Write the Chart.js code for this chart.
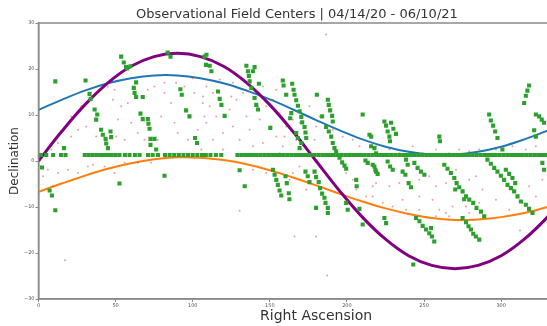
<!DOCTYPE html>
<html>
<head>
<meta charset="utf-8">
<script src="https://cdn.jsdelivr.net/npm/chart.js@4"></script>
<style>
  html, body { margin: 0; padding: 0; overflow: hidden; background: #fff; }
  canvas { display: block; }
</style>
</head>
<body>
<canvas id="chart" width="632" height="326"></canvas>
<script>
// Reference curves, sampled every 15 degrees of right ascension
const curveRA = [0,15,30,45,60,75,90,105,120,135,150,165,180,195,210,225,240,255,270,285,300,315,330,345,360];
const eclipticDec = [0,6.4,12.2,17.0,20.6,22.7,23.4,22.7,20.6,17.0,12.2,6.4,0,-6.4,-12.2,-17.0,-20.6,-22.7,-23.4,-22.7,-20.6,-17.0,-12.2,-6.4,0];
const northDec = [11.1,13.3,15.3,16.9,18.0,18.6,18.6,18.0,16.9,15.3,13.4,11.2,8.9,6.7,4.7,3.1,2.0,1.4,1.4,2.0,3.1,4.7,6.6,8.8,11.1];
const southDec = [-6.7,-4.9,-3.2,-1.7,-0.5,0.4,0.8,0.7,0.2,-0.7,-2.0,-3.6,-5.3,-7.1,-8.8,-10.3,-11.5,-12.4,-12.8,-12.7,-12.2,-11.3,-10.0,-8.4,-6.7];

// Fields observed along the survey strip (constant declination)
const rowDec = 1.3;
const rowRA = [1.5,5,9.5,14.6,17.5,30,32.5,35,37.5,40,42.5,45,47.5,50,52.5,56,59,62.5,65.5,71,74,77.5,
  82,85,88,91,94,97,100,103,106,108.5,111.5,115,118.5,
  129,131.5,134,136.5,139,141.5,144,146.5,149,151.5,154,156.5,159,161.5,164,166.5,169,171.5,174,176.5,179,181.5,
  184,186.5,189,191.5,194,196.5,199,201.5,204,206.5,209,211.5,214,216.5,219,221.5,224,226.5,229,231.5,234,236.5,
  239,241.5,244,246.5,249,251.5,254,256.5,259,261.5,264,266.5,269,271.5,274,276.5,279,281.5,284,286.5,289,291.5,
  294,296.5,299,301.5,304,306.5,309,311.5,314,316.5,319,321.5,324,326.5,329,331.5,334,336.5,339,341.5,344,346.5,
  349,351.5,354,356.5,359];

// Other observed field centres [RA, Dec]
const greenFields = [
  [53.6,22.7],[55.3,21.4],[56.8,20.4],[57.5,20.1],[59.6,20.6],[10.9,17.3],[30.5,17.5],[33.1,14.6],[33.8,13.5],
  [36.4,11.2],[38.1,10.1],[37.4,9.0],[40.6,6.8],[41.7,5.7],[43.5,4.8],[43.9,3.8],[45,2.8],[46.7,6.4],[47.1,5.2],
  [16.5,2.8],[2.3,-1.4],[7.2,-6.4],[8.7,-7.5],[10.9,-10.7],[52.5,-4.9],[81.7,-3.2],[63.3,17.1],[61.8,15.9],
  [62.3,14.8],[63.3,13.9],[67.6,13.9],[66.1,10.3],[67.6,9.1],[70.9,9.1],[71.3,8.1],[72,7.0],[72.6,4.8],[75.2,4.8],
  [72.6,3.5],[76.3,2.5],[85.6,22.7],[83.8,23.6],[92,15.6],[92.9,14.4],[95.7,11.0],[97.9,9.7],[101.5,5.0],[102.8,3.9],
  [107.6,22.7],[108.6,20.9],
  [108.9,23.1],[111,20.7],[112.1,19.5],[134.8,20.7],[135.8,19.5],[136.4,18.5],[139,19.5],[140.1,20.4],[136.9,17.3],
  [142.9,16.8],[138,15.9],[140.1,13.7],[141.2,12.2],[142.3,11.2],[116.4,15.1],[117.5,13.5],[118.6,12.2],[120.7,9.8],
  [158.4,17.5],[158.9,16.4],[164.5,16.8],[165.4,15.5],[166,14.4],[167.1,13.2],[168.2,12.0],[169.3,10.8],[170.4,9.6],
  [171,8.4],[172.5,7.4],[173.1,6.2],[173.6,5.0],[170.4,3.9],[169.3,2.8],[163.9,10.4],[163.2,9.3],[167.1,6.1],
  [168.2,5.0],[150.3,7.2],[160.6,14.4],[180.5,14.4],[187.6,13.3],[188.2,12.2],[189.1,11.0],[190.4,9.8],[190.8,8.6],
  [183.9,9.7],[186.5,7.4],[188.2,6.4],[189.8,5.3],[190.8,3.9],[191.9,2.8],[193,2.1],[195.2,0.7],[196.9,-0.3],
  [198.4,-1.0],[199.5,-1.7],[130.4,-2.0],[133.7,-5.5],[152,-1.9],[153.1,-3.0],[154.2,-4.1],[155.2,-5.2],[156.3,-6.4],
  [157.4,-7.5],[160.2,-3.3],[161,-4.8],[162.3,-7.0],[162.7,-8.3],[173.1,-2.3],[174.6,-3.3],[175.7,-4.6],[179,-2.3],
  [180,-3.5],[181.7,-4.6],[182.6,-5.9],[183.9,-7.1],[185.4,-8.0],[186.1,-9.1],[187.6,-10.2],[187.6,-11.3],[180,-10.2],
  [199.5,-9.1],[200.5,-10.6],[206,-4.1],[206.3,-5.5],[208.1,-10.4],[210.2,-13.8],[214.6,5.7],[215.7,3.2],[217.8,-1.2],
  [218.9,-2.3],[212,0.1],[213.5,-0.4],[210.2,10.1],
  [318.1,16.4],[317,15.3],[316,14.2],[314.9,12.6],[322.5,10.1],[324.6,9.7],[326.3,9.0],[327.8,8.3],[321.4,6.7],
  [322.5,5.3],[326.7,-0.4],[327.8,-1.9],[292.2,10.1],[293.3,8.8],[294.8,7.7],[296.1,6.4],[297.6,5.0],[300.8,2.5],
  [259.9,5.3],[260.3,4.3],[224.3,8.6],[225.4,7.7],[226.4,6.4],[227.5,5.3],[227.9,4.3],[228.6,8.3],[230.1,7.0],
  [231.8,5.9],[215.7,5.3],[216.7,-0.8],[218.4,-1.9],[219.9,-2.8],[226.4,-0.1],[228,-1.2],[229.7,-1.9],[238.3,0.3],
  [239.4,-0.8],[236.1,-2.3],[237.9,-3.0],[240,-4.8],[241.5,-5.7],[243.7,-0.4],[245.8,-1.5],[248,-2.3],[250.2,-3.0],
  [263.1,-0.8],[265.2,-1.7],[267.4,-2.6],[269.6,-3.7],[271.1,-4.8],[272.8,-5.7],[275,-6.6],[277.2,-7.7],[279.3,-8.4],
  [281.9,-9.1],[284,-10.2],[286.9,-11],[289,-12],[270.2,-6.2],[276,-8.3],[291.1,0.3],[293.3,-0.6],[295.5,-1.5],
  [297.6,-2.3],[299.8,-3.2],[301.9,-4.1],[304.1,-5.2],[306.3,-5.9],[308.4,-6.6],[310.6,-7.7],[312.8,-8.8],[316,-9.5],
  [318.1,-10.4],[320.3,-11.3],[303,-1.9],[305.2,-2.8],[307.3,-3.7],[309.1,-4.8],[244.8,-12.4],[247,-13.1],[249.1,-14.1],
  [251.3,-14.9],[253.4,-15.7],[255.1,-16.4],[256.6,-17.5],[254.5,-14.6],[275,-12.4],[277.2,-13.3],[278.8,-14.2],
  [280.4,-14.9],[281.9,-15.8],[283.6,-16.4],[285.8,-17.1],[224.3,-12.4],[225.4,-13.5],[243,-22.5],[217.8,2.8],[218.9,1.7]
];

// Candidate field centres [RA, Dec]
const redFields = [
  [25.6,6.8],[27.7,11.9],[45,16.2],[49.3,15.5],[48.2,13.3],[53.6,11.9],[57.9,12.6],[51.5,9.0],[50.4,5.3],[55.8,4.6],
  [60.1,8.3],[64.4,6.1],[68.7,4.6],[77.3,4.6],[79.5,9.7],[81.7,14.8],[86,12.6],[88.2,8.3],[90.3,6.1],[96.8,4.6],
  [103.2,6.8],[106.5,12.6],[107.6,9.7],[75.2,16.2],[70.9,15.5],[81.7,17.0],[94.6,16.2],[101.1,14.8],[21.2,5.3],
  [12.6,3.9],[8.3,2.5],[6.1,-1.9],[12.6,-2.6],[19.1,-1.9],[25.6,-2.6],[32,-1.2],[35.3,-0.8],[49.3,-2.6],[55.8,-0.4],
  [64.4,-0.4],[73,-0.4],[42.8,-1.2],[2.9,-3.3],[9.4,-5.5],[21.2,9.7],[30.9,7.5],[37.4,5.3],[89.2,17.0],[100,18.0],
  [106.7,14.0],[111,11.9],[108.9,8.3],[115.3,9.7],[124,11.2],[128.3,13.3],[132.6,14.8],[126.1,7.5],[119.6,6.1],
  [113.1,4.6],[130.4,4.6],[136.9,6.8],[143.4,9.0],[147.7,11.9],[152,13.3],[156.3,10.4],[160.6,7.5],[164.9,9.0],
  [154.2,5.3],[145.5,3.9],[139,3.2],[158.4,3.2],[167.1,4.6],[173.6,6.1],[180,7.5],[182.2,9.7],[175.7,11.9],
  [190.8,6.8],[197.3,5.3],[203.8,4.6],[208.1,3.2],[169.3,-1.2],[164.9,-2.6],[147.7,-2.6],[139,-1.9],[203.8,-4.1],
  [206,-6.2],[212.4,-7.7],[216.7,-5.5],[199.5,-2.6],[117.5,17.7],[126.1,17.0],[108.9,16.2],[179,4.6],[162.8,-4.1],
  [173.6,-6.2],[156.3,1.7],[119.6,2.5],[105.6,2.5],[113.1,14.8],[125,14.0],[134.8,9.7],[142.3,11.9],[150.9,7.5],
  [159.5,5.3],[169.3,8.3],[136.9,17.7],[145.5,16.2],[154.2,15.5],
  [218.9,3.2],[227.5,2.5],[234,1.7],[242.6,3.2],[249.1,1.7],[257.7,2.5],[266.3,1.7],[272.8,2.5],[279.3,2.1],
  [285.8,2.5],[296.6,2.5],[307.3,3.2],[316,2.5],[322.5,3.2],[216.7,-7.7],[223.2,-9.1],[229.6,-9.9],[236.1,-8.4],
  [246.9,-7.7],[255.5,-8.4],[259.9,-10.6],[264.2,-11.3],[268.5,-9.9],[257.7,-5.5],[253.4,-3.3],[264.2,-4.8],
  [270.7,-1.9],[279.3,-4.1],[283.6,-3.3],[287.9,-6.2],[296.6,-8.4],[305.2,-10.6],[313.8,-9.1],[322.5,-7.7],
  [318.1,-5.5],[326.7,-4.1],[246.9,-4.1],[234,-4.8],[218.9,-4.8],[227.5,-5.5],[238.3,-10.6],[277.2,-9.9],
  [279.3,-11.3],[285.8,-9.1],[257.7,-12.0],[266.3,-12.0],[246.9,-10.6]
];

// Isolated faint detections [RA, Dec]
const greyFields = [[17.2,-21.6],[166,-16.4],[180,-16.4],[187.2,-24.9],[130.4,-10.8],[186.5,27.5],[312.2,-15.1]];

const toXY = pairs => pairs.map(p => ({x: p[0], y: p[1]}));
const curve = (dec) => curveRA.map((ra, i) => ({x: ra, y: dec[i]}));

const FONT = "'DejaVu Sans', sans-serif";

// Axes box (matplotlib-style spines)
const frame = {
  id: 'frame',
  afterDatasetsDraw(chart) {
    const {ctx, chartArea: a} = chart;
    ctx.save();
    ctx.strokeStyle = '#8a8a8a';
    ctx.lineWidth = 1.5;
    ctx.strokeRect(a.left, a.top, a.right - a.left, a.bottom - a.top);
    ctx.restore();
  }
};

new Chart(document.getElementById('chart'), {
  type: 'scatter',
  data: {
    datasets: [
      { label: 'fields', data: [...rowRA.map(ra => ({x: ra, y: rowDec})), ...toXY(greenFields)],
        pointStyle: 'rect', pointRadius: 2.9, backgroundColor: '#2ca02c', borderWidth: 0, order: 1 },
      { label: 'candidates', data: toXY(redFields), pointRadius: 1, backgroundColor: 'rgba(214,39,40,0.45)',
        borderWidth: 0, order: 2 },
      { label: 'faint', data: toXY(greyFields), pointRadius: 1, backgroundColor: 'rgba(130,130,130,0.6)',
        borderWidth: 0, order: 2 },
      { label: 'ecliptic', data: curve(eclipticDec), showLine: true, pointRadius: 0, borderColor: '#800080',
        borderWidth: 3, tension: 0.4, order: 3 },
      { label: 'north', data: curve(northDec), showLine: true, pointRadius: 0, borderColor: '#1f77b4',
        borderWidth: 2, tension: 0.4, order: 3 },
      { label: 'south', data: curve(southDec), showLine: true, pointRadius: 0, borderColor: '#ff7f0e',
        borderWidth: 2, tension: 0.4, order: 3 }
    ]
  },
  options: {
    responsive: false,
    animation: false,
    events: [],
    layout: { padding: { left: 0, right: 38.3, top: 0, bottom: 0 } },
    plugins: {
      legend: { display: false },
      tooltip: { enabled: false },
      title: {
        display: true,
        text: 'Observational Field Centers | 04/14/20 - 06/10/21',
        color: '#333',
        font: { family: FONT, size: 13, weight: 'normal' },
        padding: { top: 6.5, bottom: 0.9 }
      }
    },
    scales: {
      x: {
        type: 'linear', min: 0, max: 360,
        afterFit(s) { s.height = 27; },
        ticks: { stepSize: 50, color: '#555', font: { family: FONT, size: 5 }, padding: 1, maxRotation: 0, autoSkip: false },
        grid: { display: true, drawOnChartArea: false, drawTicks: true, tickLength: 3, color: '#8a8a8a' },
        border: { display: true, color: '#8a8a8a', width: 1.5 },
        title: { display: true, text: 'Right Ascension', color: '#333', font: { family: FONT, size: 14 },
                 padding: { top: 0, bottom: 1.6 } }
      },
      y: {
        type: 'linear', min: -30, max: 30,
        afterFit(s) { s.width = 38.5; },
        ticks: { stepSize: 10, color: '#555', font: { family: FONT, size: 5 }, padding: 1,
                 callback: v => String(v).replace('-', '\u2212') },
        grid: { display: true, drawOnChartArea: false, drawTicks: true, tickLength: 3, color: '#8a8a8a' },
        border: { display: true, color: '#8a8a8a', width: 1.5 },
        title: { display: true, text: 'Declination', color: '#333', font: { family: FONT, size: 12 },
                 padding: { top: 8, bottom: 0 } }
      }
    }
  },
  plugins: [frame]
});
</script>
</body>
</html>
